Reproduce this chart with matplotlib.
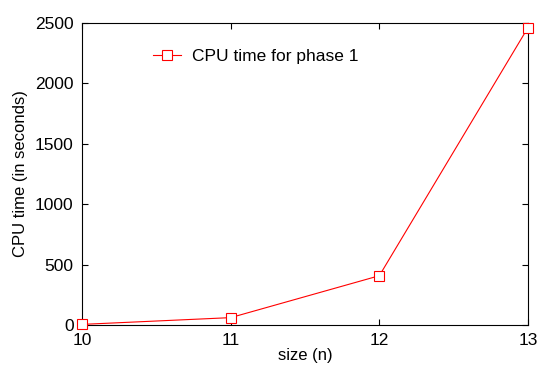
# CPU time vs problem size
import matplotlib
matplotlib.use('Agg')
import matplotlib.pyplot as plt

plt.rcParams['font.family'] = ['Liberation Sans', 'DejaVu Sans']

sizes = [10, 11, 12, 13]
cpu_time = [5, 61, 408, 2462]
x_ticks = [10, 11, 12, 13]
y_ticks = [0, 500, 1000, 1500, 2000, 2500]

fig = plt.figure(figsize=(5.43, 3.65), dpi=100)
ax = fig.add_axes([0.151, 0.1096, 0.8214, 0.8274])
ax.plot(sizes, cpu_time, color='red', linewidth=0.8, marker='s', markersize=7,
        markerfacecolor='white', markeredgecolor='red', markeredgewidth=0.8,
        label='CPU time for phase 1', clip_on=False, zorder=3)
ax.set_xlim(10, 13)
ax.set_ylim(0, 2500)
ax.set_xticks(x_ticks)
ax.set_yticks(y_ticks)
ax.tick_params(direction='in', top=True, right=True, labelsize=12.5, length=4,
               width=0.8, pad=6)
ax.set_xlabel('size (n)', fontsize=12, labelpad=0)
ax.set_ylabel('CPU time (in seconds)', fontsize=12, labelpad=5)
for s in ax.spines.values():
    s.set_linewidth(0.8)
ax.legend(loc='upper left', bbox_to_anchor=(0.125, 0.965), frameon=False,
          fontsize=12.5, handlelength=1.6, handletextpad=0.6)
fig.savefig('out.png', dpi=100)
